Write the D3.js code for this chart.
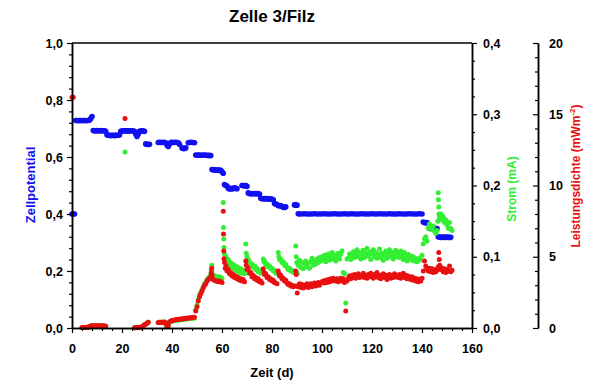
<!DOCTYPE html>
<html><head><meta charset="utf-8">
<script src="https://cdn.jsdelivr.net/npm/d3@7"></script>
<style>
body{margin:0;background:#fff;}
svg{display:block;font-family:"Liberation Sans",Arial,Helvetica,sans-serif;}
.tick text{font-weight:bold;fill:#000;}
</style></head><body>
<svg id="c" width="594" height="389"></svg>
<script>
// ---------- tick labels ----------
const xTicks = [0,20,40,60,80,100,120,140,160];
const potTicks = [0,0.2,0.4,0.6,0.8,1.0];
const stromTicks = [0,0.1,0.2,0.3,0.4];
const powerTicks = [0,5,10,15,20];

// ---------- data: [Zeit (d), value] ----------
const zellpotential = [
[0,0.40],[0.5,0.40],[1,0.40],
[1.5,0.728],[2,0.728],[2.5,0.727],[3,0.728],[3.5,0.728],[4,0.727],[4.5,0.728],[5,0.728],[5.5,0.727],[6,0.728],[6.5,0.728],[7,0.729],[7.5,0.735],[8,0.742],
[8.5,0.693],[9,0.692],[9.5,0.692],[10,0.693],[10.5,0.692],[11,0.692],[11.5,0.693],[12,0.692],[12.5,0.692],[13,0.692],[13.5,0.69],
[14,0.677],[14.5,0.676],[15,0.676],[15.5,0.675],[16,0.676],[16.5,0.676],[17,0.675],[17.5,0.676],[18,0.676],[18.5,0.676],[19,0.677],
[19.5,0.69],[20,0.691],[20.5,0.692],[21,0.692],[21.5,0.691],[22,0.692],[22.5,0.692],[23,0.691],[23.5,0.692],[24,0.692],[24.5,0.691],[25,0.69],[25.5,0.68],[26,0.672],[26.5,0.68],[27,0.69],[27.5,0.691],[28,0.692],[28.5,0.691],[29,0.69],
[29.5,0.646],[30,0.645],[30.5,0.644],[31,0.645],
[34.5,0.651],[35,0.652],[35.5,0.651],[36,0.651],[36.5,0.652],[37,0.651],[37.5,0.65],[38,0.642],[38.5,0.637],[39,0.645],[39.5,0.651],[40,0.652],[40.5,0.651],[41,0.651],[41.5,0.652],[42,0.651],[42.5,0.65],[43,0.645],
[44,0.632],[44.5,0.63],[45,0.63],[45.5,0.632],
[46.5,0.65],[47,0.651],[47.5,0.652],[48,0.651],[48.5,0.651],[49,0.65],
[49.5,0.607],[50,0.606],[50.5,0.606],[51,0.607],[51.5,0.606],[52,0.606],[52.5,0.606],[53,0.607],[53.5,0.606],[54,0.606],[54.5,0.605],[55,0.606],[55.5,0.605],
[56,0.556],[56.5,0.555],[57,0.554],[57.5,0.555],[58,0.554],[58.5,0.553],[59,0.554],[59.5,0.553],[60,0.548],[60.5,0.543],
[61,0.503],[61.5,0.50],[62,0.498],[62.5,0.49],[63,0.488],[63.5,0.49],[64,0.488],[64.5,0.49],[65,0.492],[65.5,0.49],[66,0.489],
[68,0.50],[68.5,0.50],[69,0.498],[69.5,0.50],[70,0.497],
[70.5,0.474],[71,0.472],[71.5,0.471],[72,0.472],[72.5,0.471],[73,0.472],[73.5,0.471],[74,0.472],[74.5,0.471],[75,0.47],
[75.5,0.455],[76,0.454],[76.5,0.453],[77,0.454],[77.5,0.453],[78,0.454],[78.5,0.453],[79,0.452],[79.5,0.453],[80,0.452],[80.5,0.45],
[81,0.437],[81.5,0.435],[82,0.433],[82.5,0.43],[83,0.428],[83.5,0.43],[84,0.426],[84.5,0.424],[85,0.423],[85.5,0.425],
[89,0.432],[89.5,0.432],[90,0.431],
[90.5,0.401],[91,0.40],[92,0.40],[93,0.401],[94,0.40],[95,0.40],[96,0.40],[97,0.401],[98,0.40],[99,0.40],[100,0.40],
[101,0.401],[102,0.40],[103,0.40],[104,0.40],[105,0.401],[106,0.40],[107,0.40],[108,0.40],[109,0.401],[110,0.40],
[111,0.40],[112,0.401],[113,0.40],[114,0.40],[115,0.40],[116,0.401],[117,0.40],[118,0.40],[119,0.40],[120,0.401],
[121,0.40],[122,0.40],[123,0.401],[124,0.40],[125,0.40],[126,0.40],[127,0.401],[128,0.40],[129,0.40],[130,0.40],
[131,0.401],[132,0.40],[133,0.40],[134,0.40],[135,0.401],[136,0.40],[137,0.40],[138,0.40],[139,0.401],[140,0.40],
[140.5,0.372],[141,0.37],[141.5,0.369],[142,0.37],
[143,0.35],[143.5,0.349],[144,0.35],[144.5,0.349],[145,0.35],[145.5,0.348],[146,0.349],
[146.5,0.32],[147,0.319],[147.5,0.318],[148,0.318],[148.5,0.319],[149,0.318],[149.5,0.318],[150,0.319],[150.5,0.318],[151,0.318],[151.5,0.318]
];

const strom = [
[4,0.0006],[4.5,0.0006],[5,0.0008],[5.5,0.0008],[6,0.001],[6.5,0.001],[7,0.002],[7.5,0.0027],[8,0.0029],[8.5,0.003],[9,0.0028],[9.5,0.003],[10,0.003],[10.5,0.0028],[11,0.003],[11.5,0.003],[12,0.0028],[12.5,0.003],[13,0.0028],[13.5,0.0026],
[21.2,0.247],
[25,0.0004],[25.5,0.0004],[26,0.0006],[26.5,0.0006],[27,0.0008],[27.5,0.001],[28,0.0016],[28.5,0.003],[29,0.0044],[29.5,0.0056],[30,0.0068],[30.5,0.008],
[34.5,0.0076],[35,0.008],[35.5,0.008],[36,0.0082],[36.5,0.008],[37,0.0084],[37.5,0.006],[38,0.0016],[38.5,0.003],[39,0.0084],
[39.5,0.009],[40,0.0094],[40.5,0.01],[41,0.0104],[41.5,0.0106],[42,0.011],[42.5,0.0112],[43,0.0114],[43.5,0.0116],[44,0.0118],[44.5,0.012],[45,0.0122],[45.5,0.0126],[46,0.0128],[46.5,0.013],[47,0.0132],[47.5,0.0134],[48,0.0136],[48.5,0.0138],[49,0.014],
[49.5,0.026],[50,0.032],[50.5,0.04],[51,0.046],[51.5,0.05],[52,0.054],[52.5,0.058],[53,0.062],[53.5,0.064],[54,0.068],[54.5,0.07],[55,0.072],
[55.5,0.075],[55.7,0.082],[55.9,0.088],[56,0.079],[56.5,0.074],[57,0.073],[57.5,0.072],[58,0.072],[58.5,0.071],[59,0.072],[59.5,0.071],[60,0.07],
[60.5,0.176],[60.6,0.141],[60.7,0.125],[60.8,0.113],
[61,0.104],[61.3,0.096],[61.6,0.1],[62,0.092],[62.5,0.096],[63,0.088],[63.5,0.092],[64,0.085],[64.5,0.089],[65,0.082],[65.5,0.087],[66,0.08],[66.5,0.085],[67,0.078],[67.5,0.083],[68,0.077],[68.5,0.081],[69,0.076],
[69.5,0.118],[69.7,0.105],[70,0.1],[70.5,0.096],[71,0.093],[71.5,0.089],[72,0.09],[72.5,0.085],[73,0.087],[73.5,0.082],[74,0.084],[74.5,0.079],[75,0.081],[75.5,0.077],[76,0.078],
[76.5,0.097],[76.8,0.093],[77,0.094],[77.5,0.089],[78,0.09],[78.5,0.086],[79,0.087],[79.5,0.083],[80,0.084],[80.5,0.08],[81,0.081],[81.5,0.077],[82,0.078],
[82.5,0.106],[82.8,0.1],[83,0.096],[83.5,0.097],[84,0.092],[84.5,0.093],[85,0.088],[85.5,0.089],[86,0.085],[86.5,0.082],[87,0.084],[87.5,0.08],[88,0.081],[88.5,0.078],[89,0.079],
[89.5,0.115],[89.7,0.1],[89.9,0.092],[90.1,0.077],
[90.5,0.088],[91,0.095],[91.5,0.085],[92,0.092],[92.5,0.083],[93,0.09],[93.5,0.094],[94,0.086],[94.5,0.091],[95,0.084],[95.5,0.093],[96,0.098],[96.5,0.088],[97,0.094],[97.5,0.09],[98,0.097],[98.5,0.092],[99,0.099],[99.5,0.094],[100,0.1],
[100.5,0.096],[101,0.102],[101.5,0.093],[102,0.099],[102.5,0.104],[103,0.095],[103.5,0.1],[104,0.106],[104.5,0.097],[105,0.102],[105.5,0.094],[106,0.1],[106.5,0.105],[107,0.097],[107.5,0.103],[108,0.108],[108.5,0.078],
[109,0.076],[109.5,0.035],[110,0.097],
[110.5,0.098],[111,0.104],[111.5,0.096],[112,0.101],[112.5,0.107],[113,0.099],[113.5,0.104],[114,0.11],[114.5,0.1],[115,0.106],[115.5,0.097],[116,0.103],[116.5,0.109],[117,0.099],[117.5,0.105],[118,0.112],[118.5,0.101],[119,0.107],[119.5,0.096],[120,0.104],
[120.5,0.11],[121,0.1],[121.5,0.106],[122,0.098],[122.5,0.104],[123,0.111],[123.5,0.099],[124,0.105],[124.5,0.095],[125,0.102],[125.5,0.108],[126,0.098],[126.5,0.104],[127,0.11],[127.5,0.1],[128,0.106],[128.5,0.097],[129,0.103],[129.5,0.109],[130,0.1],
[130.5,0.105],[131,0.099],[131.5,0.108],[132,0.102],[132.5,0.096],[133,0.106],[133.5,0.1],[134,0.094],[134.5,0.103],[135,0.097],[135.5,0.101],[136,0.095],[136.5,0.1],[137,0.094],[137.5,0.098],[138,0.093],[138.5,0.097],[139,0.095],[139.5,0.099],[140,0.102],
[140.5,0.118],[141,0.125],[141.5,0.128],[142,0.122],[142.5,0.14],[143,0.146],[143.5,0.142],[144,0.138],[144.5,0.143],[145,0.136],[145.5,0.133],[146,0.137],
[146.3,0.15],[146.5,0.19],[146.6,0.18],[146.7,0.17],[146.8,0.16],[147,0.155],[147.5,0.16],[148,0.152],[148.5,0.156],[149,0.148],[149.5,0.152],[150,0.145],[150.5,0.14],[151,0.148],[151.5,0.14],[152,0.137]
];

const leistungsdichte = [
[0,16.2],[0.5,16.2],
[4,0.03],[4.5,0.03],[5,0.04],[5.5,0.04],[6,0.05],[6.5,0.05],[7,0.1],[7.5,0.14],[8,0.15],[8.5,0.15],[9,0.14],[9.5,0.15],[10,0.15],[10.5,0.14],[11,0.15],[11.5,0.15],[12,0.14],[12.5,0.15],[13,0.14],[13.5,0.13],
[21.2,14.7],
[25,0.02],[25.5,0.02],[26,0.03],[26.5,0.03],[27,0.04],[27.5,0.05],[28,0.08],[28.5,0.15],[29,0.22],[29.5,0.28],[30,0.34],[30.5,0.4],
[34.5,0.38],[35,0.4],[35.5,0.4],[36,0.41],[36.5,0.4],[37,0.42],[37.5,0.3],[38,0.08],[38.5,0.15],[39,0.42],
[39.5,0.5],[40,0.52],[40.5,0.55],[41,0.57],[41.5,0.58],[42,0.6],[42.5,0.61],[43,0.62],[43.5,0.63],[44,0.64],[44.5,0.65],[45,0.66],[45.5,0.68],[46,0.69],[46.5,0.7],[47,0.71],[47.5,0.72],[48,0.73],[48.5,0.74],[49,0.75],
[49.5,1.2],[50,1.5],[50.5,1.9],[51,2.2],[51.5,2.4],[52,2.6],[52.5,2.8],[53,3.0],[53.5,3.1],[54,3.3],[54.5,3.4],[55,3.5],
[55.5,3.6],[55.7,3.9],[55.9,4.2],[56,3.7],[56.5,3.4],[57,3.35],[57.5,3.3],[58,3.3],[58.5,3.25],[59,3.3],[59.5,3.25],[60,3.2],
[60.5,8.2],[60.6,6.6],[60.7,5.4],[60.8,4.86],
[61,4.6],[61.3,4.2],[61.6,4.35],[62,4.0],[62.5,4.1],[63,3.8],[63.5,3.9],[64,3.65],[64.5,3.75],[65,3.55],[65.5,3.65],[66,3.45],[66.5,3.55],[67,3.35],[67.5,3.45],[68,3.3],[68.5,3.4],[69,3.25],
[69.5,4.7],[69.7,4.4],[70,4.1],[70.5,4.2],[71,3.85],[71.5,3.9],[72,3.6],[72.5,3.7],[73,3.45],[73.5,3.55],[74,3.35],[74.5,3.45],[75,3.25],[75.5,3.3],[76,3.15],
[76.5,4.15],[76.8,3.9],[77,3.75],[77.5,3.8],[78,3.55],[78.5,3.6],[79,3.4],[79.5,3.45],[80,3.3],[80.5,3.35],[81,3.2],[81.5,3.15],[82,3.1],
[82.5,4.0],[82.8,3.8],[83,3.65],[83.5,3.7],[84,3.45],[84.5,3.5],[85,3.3],[85.5,3.35],[86,3.15],[86.5,3.05],[87,3.1],[87.5,2.95],[88,3.0],[88.5,2.9],[89,2.95],
[89.5,4.0],[89.7,3.75],[89.9,2.95],[90.1,2.45],
[90.5,2.9],[91,3.1],[91.5,2.85],[92,3.05],[92.5,2.8],[93,3.0],[93.5,2.9],[94,3.1],[94.5,2.85],[95,2.95],[95.5,3.1],[96,2.9],[96.5,3.0],[97,3.15],[97.5,2.95],[98,3.1],[98.5,3.2],[99,3.0],[99.5,3.15],[100,3.25],
[100.5,3.3],[101,3.15],[101.5,3.35],[102,3.2],[102.5,3.4],[103,3.25],[103.5,3.45],[104,3.3],[104.5,3.5],[105,3.35],[105.5,3.3],[106,3.45],[106.5,3.25],[107,3.4],[107.5,3.5],[108,3.3],[108.5,3.45],
[109,3.2],[109.5,1.2],[110,3.3],
[110.5,3.5],[111,3.65],[111.5,3.45],[112,3.7],[112.5,3.55],[113,3.75],[113.5,3.5],[114,3.65],[114.5,3.8],[115,3.55],[115.5,3.7],[116,3.6],[116.5,3.85],[117,3.55],[117.5,3.7],[118,3.5],[118.5,3.75],[119,3.6],[119.5,3.85],[120,3.65],
[120.5,3.5],[121,3.75],[121.5,3.6],[122,3.9],[122.5,3.55],[123,3.7],[123.5,3.45],[124,3.65],[124.5,3.8],[125,3.55],[125.5,3.7],[126,3.4],[126.5,3.6],[127,3.75],[127.5,3.5],[128,3.65],[128.5,3.55],[129,3.8],[129.5,3.6],[130,3.7],
[130.5,3.55],[131,3.75],[131.5,3.5],[132,3.7],[132.5,3.85],[133,3.55],[133.5,3.7],[134,3.45],[134.5,3.65],[135,3.5],[135.5,3.4],[136,3.6],[136.5,3.35],[137,3.5],[137.5,3.3],[138,3.45],[138.5,3.25],[139,3.4],[139.5,3.3],[140,3.5],
[140.5,4.0],[141,4.7],[141.5,4.35],[142,4.15],[142.5,4.0],[143,4.2],[143.5,3.95],[144,4.15],[144.5,3.9],[145,4.1],[145.5,3.95],[146,4.05],
[146.5,4.3],[146.7,5.3],[146.9,4.8],[147.1,4.4],[147.5,4.1],[148,4.2],[148.5,3.95],[149,4.15],[149.5,3.9],[150,4.1],[150.5,4.0],[151,4.35],[151.5,3.95],[152,4.05]
];

// ---------- chart ----------
const svg = d3.select("#c");
const x = d3.scaleLinear().domain([0,160]).range([72,472]);
const yPot = d3.scaleLinear().domain([0,1]).range([328,43]);
const yStrom = d3.scaleLinear().domain([0,0.4]).range([328,43]);
const yPow = d3.scaleLinear().domain([0,20]).range([328,43]);

const comma1 = d => d3.format(".1f")(d).replace(".", ",");

const BLUE = "#1010f0", GREEN = "#33ee33", RED = "#e81010";

// points (blue, then green, then red on top)
svg.append("g").selectAll("circle").data(zellpotential).join("circle")
  .attr("cx", d => x(d[0])).attr("cy", d => yPot(d[1])).attr("r", 2.8).attr("fill", BLUE);
svg.append("g").selectAll("circle").data(strom).join("circle")
  .attr("cx", d => x(d[0])).attr("cy", d => yStrom(d[1])).attr("r", 2.5).attr("fill", GREEN);
svg.append("g").selectAll("circle").data(leistungsdichte).join("circle")
  .attr("cx", d => x(d[0])).attr("cy", d => yPow(d[1])).attr("r", 2.5).attr("fill", RED);

function styleAxis(g, fs){
  g.selectAll(".domain").attr("stroke","#000").attr("stroke-width",1.5);
  g.selectAll(".tick line").attr("stroke","#000").attr("stroke-width",1.2);
  g.selectAll(".tick text").style("font-size", fs+"px").style("font-weight","bold");
}

// top border
svg.append("line").attr("x1", x(0)).attr("x2", x(160)).attr("y1", yPot(1)).attr("y2", yPot(1))
  .attr("stroke","#000").attr("stroke-width",1.5);

// x axis
const xMinor = d3.range(0,161,4).filter(v => v % 20 !== 0);
svg.append("g").attr("transform","translate(0,328)")
  .call(d3.axisBottom(x).tickValues(xMinor).tickSize(3).tickFormat("").tickSizeOuter(0))
  .call(g => styleAxis(g, 12));
svg.append("g").attr("transform","translate(0,328)")
  .call(d3.axisBottom(x).tickValues(xTicks).tickSize(5).tickPadding(11).tickFormat(d3.format("d")).tickSizeOuter(0))
  .call(g => styleAxis(g, 12.5));

// left axis
const potMinor = d3.range(0,1.0001,0.04).filter(v => Math.abs(v*5 - Math.round(v*5)) > 1e-6);
svg.append("g").attr("transform","translate(72,0)")
  .call(d3.axisLeft(yPot).tickValues(potMinor).tickSize(3).tickFormat("").tickSizeOuter(0))
  .call(g => styleAxis(g, 12));
svg.append("g").attr("transform","translate(72,0)")
  .call(d3.axisLeft(yPot).tickValues(potTicks).tickSize(5).tickPadding(4).tickFormat(comma1).tickSizeOuter(0))
  .call(g => styleAxis(g, 12.5));

// right axis: Strom
const stromMinor = d3.range(0,0.40001,0.025).filter(v => Math.abs(v*10 - Math.round(v*10)) > 1e-6);
svg.append("g").attr("transform","translate(472,0)")
  .call(d3.axisRight(yStrom).tickValues(stromMinor).tickSize(3).tickFormat("").tickSizeOuter(0))
  .call(g => styleAxis(g, 12));
svg.append("g").attr("transform","translate(472,0)")
  .call(d3.axisRight(yStrom).tickValues(stromTicks).tickSize(5).tickPadding(6).tickFormat(comma1).tickSizeOuter(0))
  .call(g => styleAxis(g, 12.5));

// third axis: Leistungsdichte (ticks pointing left, labels right)
const powMinor = d3.range(0,20.001,1).filter(v => v % 5 !== 0);
svg.append("g").attr("transform","translate(538,0)")
  .call(d3.axisRight(yPow).tickValues(powMinor).tickSizeInner(-3).tickSizeOuter(0).tickFormat(""))
  .call(g => styleAxis(g, 12));
svg.append("g").attr("transform","translate(538,0)")
  .call(d3.axisRight(yPow).tickValues(powerTicks).tickSizeInner(-5).tickSizeOuter(0).tickPadding(11).tickFormat(d3.format("d")))
  .call(g => styleAxis(g, 12.5));

// titles
svg.append("text").attr("x",272).attr("y",22).attr("text-anchor","middle")
  .style("font-size","17px").style("font-weight","bold").text("Zelle 3/Filz");
svg.append("text").attr("x",272).attr("y",377).attr("text-anchor","middle")
  .style("font-size","13px").style("font-weight","bold").text("Zeit (d)");
svg.append("text").attr("transform","translate(35,185) rotate(-90)").attr("text-anchor","middle")
  .style("font-size","13px").style("font-weight","bold").attr("fill",BLUE).text("Zellpotential");
svg.append("text").attr("transform","translate(516,189) rotate(-90)").attr("text-anchor","middle")
  .style("font-size","12px").style("font-weight","bold").attr("fill",GREEN).text("Strom (mA)");
const lt = svg.append("text").attr("transform","translate(580,176) rotate(-90)").attr("text-anchor","middle")
  .style("font-size","12px").style("font-weight","bold").attr("fill",RED);
lt.append("tspan").text("Leistungsdichte (mWm");
lt.append("tspan").attr("dy",-5).style("font-size","8px").text("-2");
lt.append("tspan").attr("dy",5).text(")");
</script>
</body></html>
